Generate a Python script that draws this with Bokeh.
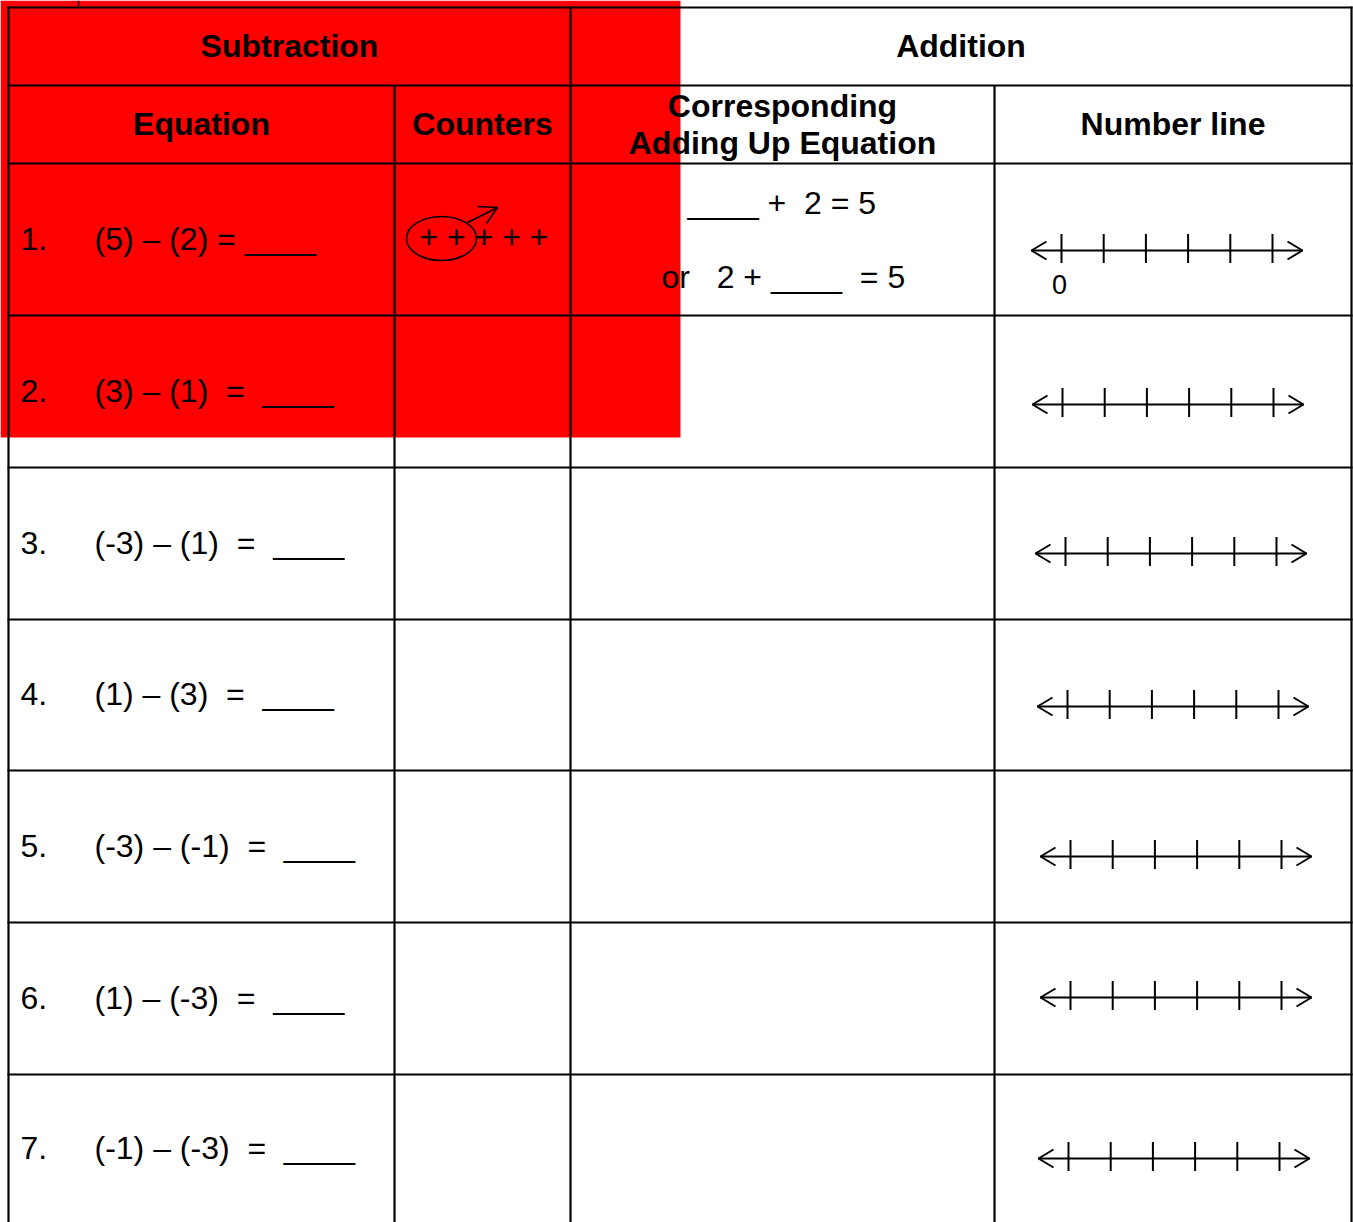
from bokeh.plotting import figure
from bokeh.models import Range1d
from bokeh.embed import file_html
from bokeh.resources import INLINE
from bokeh.core.properties import value

NB = "\u00a0"

# ---------------- content ----------------
group_headers = ["Subtraction", "Addition"]
column_headers = ["Equation", "Counters", "Number line"]
adding_up_header = ["Corresponding", "Adding Up Equation"]
item_numbers = ["1.", "2.", "3.", "4.", "5.", "6.", "7."]
expressions = [
    "(5) – (2) = ____",
    "(3) – (1)  =  ____",
    "(-3) – (1)  =  ____",
    "(1) – (3)  =  ____",
    "(-3) – (-1)  =  ____",
    "(1) – (-3)  =  ____",
    "(-1) – (-3)  =  ____",
]
example_counters = "+ + + + +"
example_adding_up = ["____ +  2 = 5", "or   2 + ____  = 5"]
zero_label = "0"
ticks_per_line = 6

# ---------------- layout ----------------
W, H = 1353, 1222
col_x = [8, 394, 570, 994, 1351]
row_y = [7, 85, 163, 315, 467, 619, 770, 922, 1074, 1222]
highlight = dict(left=0, right=680, top=0, bottom=437)
nl_left_tip = [1031, 1032, 1035, 1037, 1040, 1040, 1038]
nl_y = [250, 404, 553, 706, 856, 997, 1158]
tick_step = 42.2
DY = -1  # text vertical nudge

FONT = value("Liberation Sans")
FS = "32px"


def disp(s):
    return s.replace(" ", NB)


p = figure(width=W, height=H, x_range=Range1d(0, W), y_range=Range1d(H, 0),
           output_backend="svg", toolbar_location=None, min_border=0)
p.axis.visible = False
p.grid.visible = False
p.outline_line_color = None
p.background_fill_color = "white"

# red highlight
p.quad(left=[highlight["left"]], right=[highlight["right"]], top=[highlight["top"]],
       bottom=[highlight["bottom"]], fill_color="#ff0000", line_color=None)

# table lines
hx0, hx1, hy = [], [], []
for y in row_y[:-1]:
    hx0.append(col_x[0] - 1); hx1.append(col_x[-1] + 1); hy.append(y)
p.segment(x0=hx0, y0=hy, x1=hx1, y1=hy, line_color="black", line_width=2.2)
vtops = [row_y[0] - 1, row_y[1], row_y[0] - 1, row_y[1], row_y[0] - 1]
p.segment(x0=col_x, y0=vtops, x1=col_x, y1=[row_y[-1]] * len(col_x), line_color="black", line_width=2.2)
# small mark above the table
p.segment(x0=[78], y0=[0], x1=[78], y1=[6], line_color="black", line_width=1.5)

# headers
p.text(x=[(col_x[0] + col_x[2]) / 2, (col_x[2] + col_x[4]) / 2],
       y=[(row_y[0] + row_y[1]) / 2 + DY] * 2, text=group_headers,
       text_font=FONT, text_font_size=FS, text_font_style="bold",
       text_align="center", text_baseline="middle")
hc = (row_y[1] + row_y[2]) / 2 + DY
p.text(x=[(col_x[0] + col_x[1]) / 2, (col_x[1] + col_x[2]) / 2, (col_x[3] + col_x[4]) / 2],
       y=[hc] * 3, text=column_headers,
       text_font=FONT, text_font_size=FS, text_font_style="bold",
       text_align="center", text_baseline="middle")
p.text(x=[(col_x[2] + col_x[3]) / 2] * 2, y=[hc - 18, hc + 19], text=adding_up_header,
       text_font=FONT, text_font_size=FS, text_font_style="bold",
       text_align="center", text_baseline="middle")

# rows
centers = [(row_y[i] + row_y[i + 1]) / 2 + DY for i in range(2, 9)]
p.text(x=[20] * 7, y=centers, text=item_numbers, text_font=FONT, text_font_size=FS,
       text_align="left", text_baseline="middle")
p.text(x=[94] * 7, y=centers, text=[disp(s) for s in expressions], text_font=FONT,
       text_font_size=FS, text_align="left", text_baseline="middle")

# example counters
p.text(x=[419], y=[centers[0] - 2], text=[disp(example_counters)], text_font=FONT,
       text_font_size=FS, text_align="left", text_baseline="middle")
p.ellipse(x=[441], y=[238], width=[70], height=[44], fill_color=None, line_color="black",
          line_width=1.6)
p.multi_line(xs=[[467, 497], [477, 497, 486]], ys=[[222, 207], [206, 207, 223]],
             line_color="black", line_width=1.6)

# example adding-up equations
p.text(x=[687, 661], y=[202, 276], text=[disp(s) for s in example_adding_up], text_font=FONT,
       text_font_size=FS, text_align="left", text_baseline="middle")

# number lines
for lt, y in zip(nl_left_tip, nl_y):
    first = lt + 30
    ticks = [first + k * tick_step for k in range(ticks_per_line)]
    rt = ticks[-1] + 30
    p.segment(x0=[lt], y0=[y], x1=[rt], y1=[y], line_color="black", line_width=2)
    p.multi_line(xs=[[lt + 15, lt, lt + 15], [rt - 15, rt, rt - 15]],
                 ys=[[y - 9, y, y + 9], [y - 9, y, y + 9]], line_color="black", line_width=2)
    p.segment(x0=ticks, y0=[y - 16.5] * len(ticks), x1=ticks, y1=[y + 12.5] * len(ticks),
              line_color="black", line_width=2)
    if y == nl_y[0]:
        p.text(x=[ticks[0] - 2], y=[284], text=[zero_label], text_font=FONT, text_font_size="27px",
               text_align="center", text_baseline="middle")

open("out.html", "w").write(file_html(p, INLINE))
